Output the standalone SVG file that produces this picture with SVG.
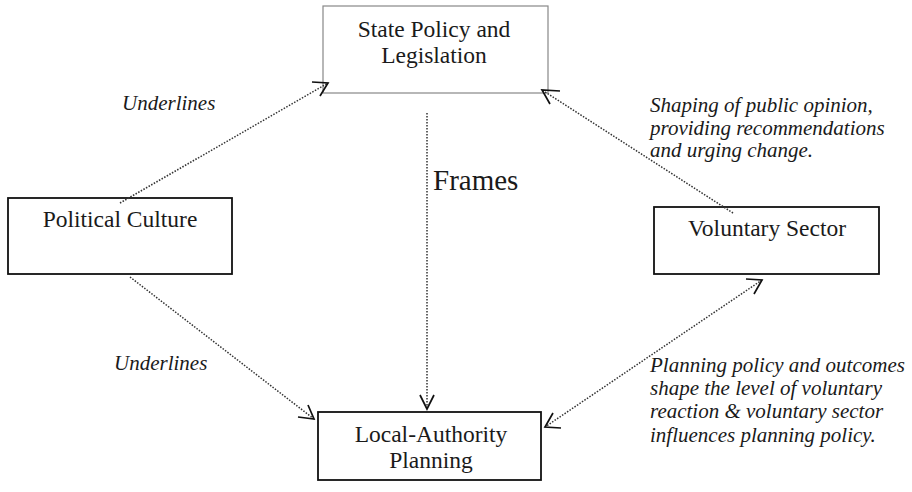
<svg xmlns="http://www.w3.org/2000/svg" width="912" height="492" viewBox="0 0 912 492">
<style>
.box{fill:#fff;stroke:#111;stroke-width:1.8}
.lbox{fill:#fff;stroke:#888;stroke-width:1.2}
.t{font-family:"Liberation Serif",serif;font-size:23.5px;fill:#1a1a1a;text-anchor:middle}
.i{font-family:"Liberation Serif",serif;font-size:21px;font-style:italic;fill:#1a1a1a}
.c{stroke:#333;stroke-width:1.5;stroke-dasharray:1.5 1.5;fill:none}
.h{stroke:#111;stroke-width:1.7;fill:none}
</style>
<rect width="912" height="492" fill="#fff"/>
<g id="state"><rect class="lbox" x="323" y="6" width="225" height="87"/>
<text class="t" x="434" y="37">State Policy and</text><text class="t" x="434" y="63">Legislation</text></g>
<g id="political"><rect class="box" x="8" y="198" width="224" height="76"/>
<text class="t" x="120" y="227">Political Culture</text></g>
<g id="voluntary"><rect class="box" x="654" y="207" width="225" height="67"/>
<text class="t" x="767" y="236">Voluntary Sector</text></g>
<g id="local"><rect class="box" x="318" y="412" width="223" height="68"/>
<text class="t" x="431" y="442">Local-Authority</text><text class="t" x="431" y="468">Planning</text></g>
<g id="connectors">
<line class="c" x1="120" y1="203" x2="328" y2="83"/>
<path class="h" d="M312,82 L328,83 L320,96"/>
<line class="c" x1="733" y1="213" x2="542" y2="90"/>
<path class="h" d="M560,91 L542,90 L550,104"/>
<line class="c" x1="427" y1="113" x2="427" y2="409"/>
<path class="h" d="M420,395 L427,409 L434,395"/>
<line class="c" x1="130" y1="277" x2="314" y2="419"/>
<path class="h" d="M308,405 L314,419 L298,417"/>
<line class="c" x1="762" y1="280" x2="545" y2="427"/>
<path class="h" d="M746,279 L762,280 L754,294"/>
<path class="h" d="M553,413 L545,427 L561,428"/>
</g>
<g id="labels">
<text class="i" x="122" y="110">Underlines</text>
<text class="i" x="114" y="370">Underlines</text>
<text x="433" y="190" style="font-family:'Liberation Serif',serif;font-size:29px;fill:#1a1a1a">Frames</text>
<text class="i" x="650" y="112">Shaping of public opinion,</text>
<text class="i" x="650" y="135">providing recommendations</text>
<text class="i" x="650" y="157">and urging change.</text>
<text class="i" x="650" y="372">Planning policy and outcomes</text>
<text class="i" x="650" y="395">shape the level of voluntary</text>
<text class="i" x="650" y="418">reaction &amp; voluntary sector</text>
<text class="i" x="650" y="442">influences planning policy.</text>
</g>
</svg>
